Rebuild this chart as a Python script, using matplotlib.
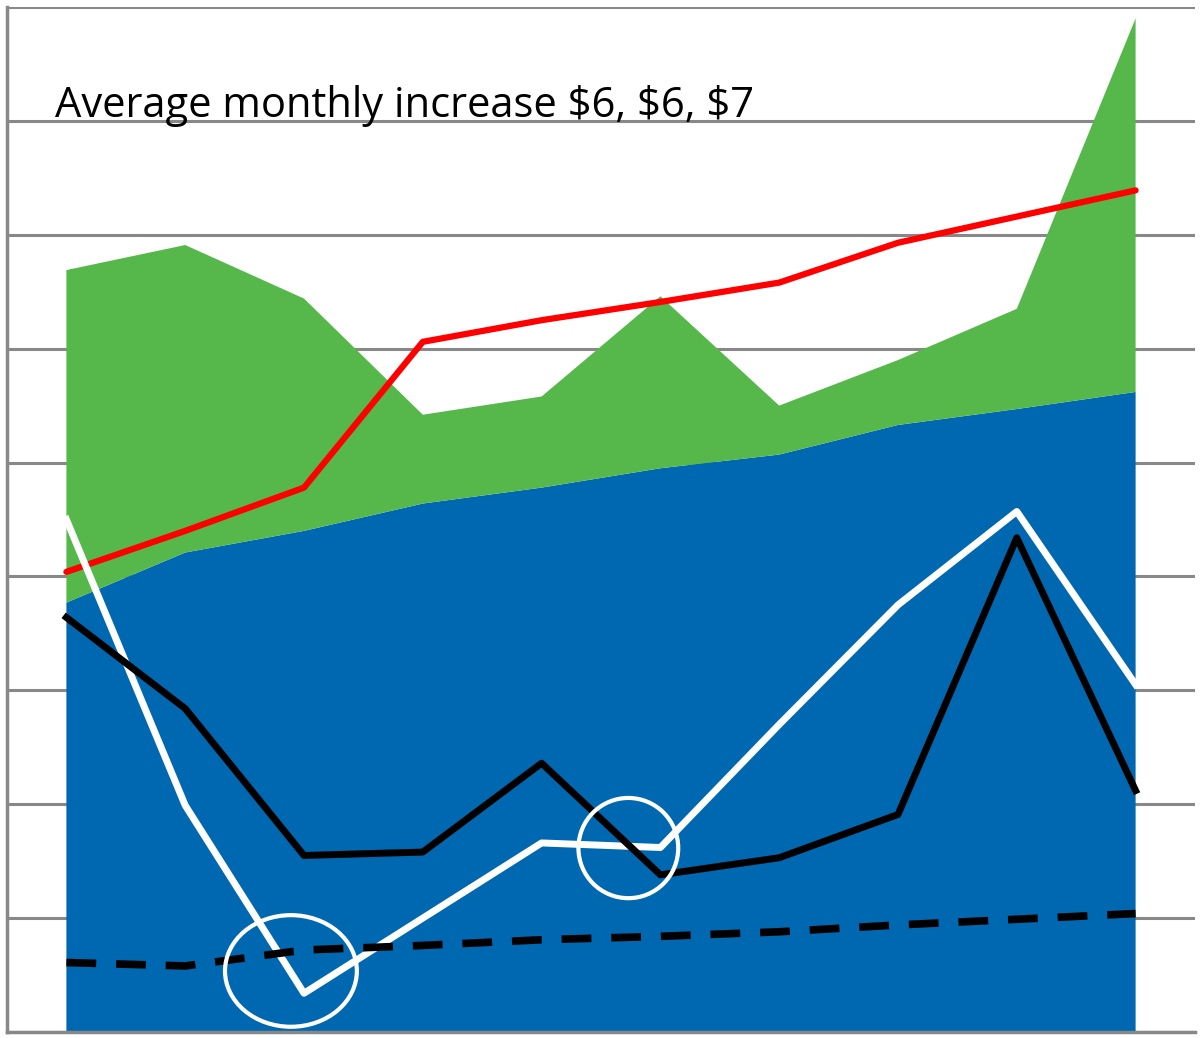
import matplotlib
matplotlib.use("Agg")
import matplotlib.pyplot as plt
from matplotlib.patches import Ellipse
import numpy as np

months = list(range(10))
blue = [37.7, 42.1, 44.0, 46.4, 47.8, 49.5, 50.7, 53.3, 54.7, 56.2]
green_top = [66.9, 69.1, 64.4, 54.2, 55.8, 64.6, 55.0, 59.0, 63.5, 89.0]
green = [t - b for t, b in zip(green_top, blue)]
red = [40.4, 44.0, 47.8, 60.6, 62.5, 64.1, 65.8, 69.3, 71.6, 73.9]
white = [45.0, 19.9, 3.4, 10.0, 16.6, 16.2, 27.0, 37.5, 45.7, 30.5]
black = [36.4, 28.4, 15.5, 15.8, 23.6, 13.8, 15.3, 19.1, 43.4, 21.2]
dashed = [6.1, 5.8, 7.2, 7.6, 8.1, 8.4, 8.8, 9.4, 9.9, 10.4]
note = "Average monthly increase \\$6, \\$6, \\$7"

fig = plt.figure(figsize=(12, 10.38), dpi=100)
ax = fig.add_axes([7/1200, 1 - 1032/1038, 1188/1200, 1025/1038])

ax.stackplot(months, blue, green, colors=["#0068b0", "#56b84a"], zorder=2)
ax.plot(months, red, color="#ff0000", lw=4.5, solid_capstyle="round", zorder=3)
ax.plot(months, white, color="white", lw=5, zorder=3)
ax.plot(months, black, color="black", lw=5, zorder=4)
ax.plot(months, dashed, color="black", lw=5.5, dashes=(3.9, 2.6), zorder=4)

# circled points
ax.add_patch(Ellipse((1.89, 5.36), 1.11, 9.8, fill=False, ec="white", lw=3, zorder=5))
ax.add_patch(Ellipse((4.73, 16.15), 0.84, 8.8, fill=False, ec="white", lw=3, zorder=5))

ax.set_xlim(-0.5, 9.5)
ax.set_ylim(0, 90)
ax.set_yticks(np.arange(0, 91, 10))
ax.set_xticks([])
ax.yaxis.grid(True, color="#888888", lw=2.2, zorder=1)
ax.set_axisbelow(True)
ax.tick_params(left=False, labelleft=False)
for s in ["top", "right"]:
    ax.spines[s].set_visible(False)
for s in ["left", "bottom"]:
    ax.spines[s].set_color("#888888")
    ax.spines[s].set_linewidth(2.5)

ax.text(-0.1, 80.3, note, fontsize=30, family="Open Sans", color="black",
        va="baseline", zorder=6)

fig.savefig("out.png", dpi=100)
